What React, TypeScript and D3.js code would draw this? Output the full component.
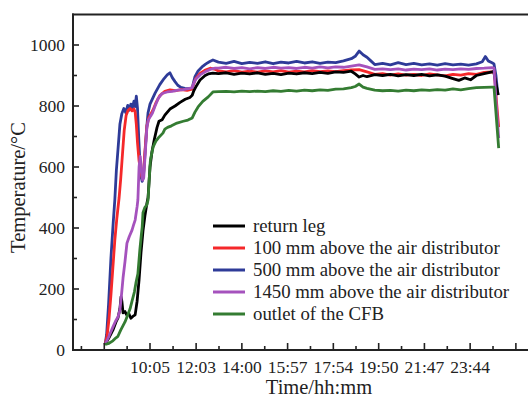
import React from "react";
import * as d3 from "d3";

type Pt = [number, number];

// time in minutes since 00:00, temperature in °C
const seriesNames = [
  "return leg",
  "100 mm above the air distributor",
  "500 mm above the air distributor",
  "1450 mm above the air distributor",
  "outlet of the CFB",
];
const seriesColors = ["#000000", "#f5282a", "#2e3b98", "#a552bd", "#347c32"];

const returnLeg: Pt[] = [
  [490,18],[500,40],[510,65],[518,92],[523,105],[528,135],[531,175],[533,160],[536,122],[541,126],[546,114],[551,119],[556,104],[561,110],[567,115],[572,160],[577,230],[582,320],[587,390],[592,440],[597,480],[600,500],[605,600],[610,650],[616,690],[623,730],[628,750],[636,755],[643,770],[656,790],[669,800],[682,812],[695,822],[707,828],[713,835],[717,850],[722,862],[733,885],[746,900],[754,905],[766,908],
  [780,906],[800,909],[820,904],[840,908],[860,905],[880,909],[900,904],[920,907],[940,903],[960,908],[980,905],[1000,909],[1020,906],[1040,910],[1060,907],[1080,912],[1100,910],[1120,914],[1130,905],[1140,895],[1150,900],[1160,896],[1180,903],[1200,900],[1220,904],[1240,899],[1260,903],[1280,900],[1300,904],[1320,899],[1340,902],[1360,898],[1380,890],[1395,884],[1410,892],[1425,886],[1440,900],[1460,906],[1480,912],[1484,914],[1489,880],[1496,836],
];

const above100: Pt[] = [
  [490,18],[495,45],[500,100],[505,180],[510,270],[515,360],[520,430],[526,500],[530,560],[535,650],[539,720],[544,770],[549,786],[554,792],[559,784],[564,790],[567,780],[570,740],[573,680],[577,620],[581,588],[585,563],[588,570],[592,650],[597,735],[602,762],[608,776],[613,788],[620,810],[630,834],[643,848],[656,853],[670,850],[685,854],[700,851],[713,855],[716,870],[722,890],[733,907],[745,917],[759,924],[772,920],
  [780,915],[800,912],[820,916],[840,911],[860,914],[880,911],[900,915],[920,912],[940,916],[960,911],[980,914],[1000,912],[1020,916],[1040,913],[1060,915],[1080,913],[1100,916],[1120,918],[1140,919],[1160,912],[1180,904],[1200,906],[1220,901],[1240,905],[1260,901],[1280,904],[1300,900],[1320,905],[1340,902],[1360,899],[1380,904],[1400,901],[1420,906],[1440,904],[1460,910],[1480,912],[1486,910],[1491,820],[1497,731],
];

const above500: Pt[] = [
  [490,18],[494,50],[499,150],[505,300],[511,420],[515,492],[519,590],[523,656],[528,740],[533,775],[538,792],[543,778],[548,802],[552,786],[556,806],[560,794],[564,816],[567,798],[570,832],[573,792],[576,700],[579,620],[582,570],[585,553],[588,565],[592,640],[596,720],[600,778],[605,806],[610,820],[618,842],[630,870],[641,890],[649,902],[656,909],[662,893],[669,880],[676,868],[684,861],[694,858],[704,857],[713,859],[716,876],[720,896],[728,915],[738,928],[748,938],[758,946],[766,951],
  [780,944],[800,940],[820,946],[840,939],[860,943],[880,940],[900,945],[920,939],[940,944],[960,941],[980,946],[1000,941],[1020,945],[1040,940],[1060,944],[1080,942],[1100,948],[1120,955],[1130,963],[1140,980],[1150,968],[1160,960],[1170,948],[1180,936],[1200,940],[1220,935],[1240,942],[1260,936],[1280,940],[1300,935],[1320,938],[1340,934],[1360,939],[1380,935],[1400,937],[1420,934],[1440,938],[1455,945],[1463,962],[1470,948],[1480,942],[1485,938],[1490,900],[1495,836],
];

const above1450: Pt[] = [
  [490,18],[500,45],[510,75],[517,95],[523,108],[528,131],[532,180],[536,236],[541,290],[546,350],[552,372],[559,393],[563,410],[567,426],[572,470],[574,492],[577,600],[580,635],[583,592],[586,557],[589,566],[593,650],[597,730],[601,755],[606,766],[611,776],[618,800],[626,825],[636,841],[649,846],[662,848],[676,852],[690,854],[704,857],[713,860],[716,872],[722,888],[733,902],[746,912],[759,920],[772,924],
  [780,924],[800,927],[820,923],[840,926],[860,922],[880,926],[900,923],[920,927],[940,924],[960,926],[980,923],[1000,927],[1020,924],[1040,928],[1060,925],[1080,928],[1100,927],[1120,931],[1140,935],[1160,928],[1180,920],[1200,922],[1220,919],[1240,922],[1260,918],[1280,921],[1300,919],[1320,922],[1340,918],[1360,921],[1380,919],[1400,922],[1420,920],[1440,923],[1460,924],[1480,926],[1485,924],[1491,800],[1497,695],
];

const outletCFB: Pt[] = [
  [490,18],[500,22],[510,30],[518,40],[523,45],[530,65],[536,80],[541,92],[548,115],[554,135],[559,160],[565,190],[569,220],[574,250],[579,328],[583,380],[585,403],[587,450],[592,468],[597,476],[600,492],[603,560],[606,623],[613,666],[620,685],[626,695],[638,711],[643,724],[650,730],[660,735],[674,744],[690,750],[702,754],[713,761],[720,780],[728,797],[740,815],[754,830],[766,846],
  [780,847],[800,848],[820,846],[840,849],[860,847],[880,849],[900,847],[920,850],[940,848],[960,851],[980,849],[1000,852],[1020,850],[1040,853],[1060,851],[1080,855],[1100,856],[1120,860],[1130,864],[1140,872],[1150,862],[1160,858],[1180,852],[1200,850],[1220,851],[1240,849],[1260,852],[1280,850],[1300,853],[1320,851],[1340,854],[1360,852],[1380,856],[1400,853],[1420,857],[1440,860],[1460,861],[1480,862],[1485,862],[1497,662],
];

const seriesData = [returnLeg, above100, above500, above1450, outletCFB];
// drawing order (indices into seriesData)
const drawOrder = [2, 1, 0, 3, 4];

const xTickLabels = ["10:05", "12:03", "14:00", "15:57", "17:54", "19:50", "21:47", "23:44"];
const xExtraMajorTicks = [488, 1541];
const yMajorTicks = [0, 200, 400, 600, 800, 1000];
const yMinorTicks = [100, 300, 500, 700, 900];

const toMinutes = (s: string) => {
  const [h, m] = s.split(":").map(Number);
  return h * 60 + m;
};

export default function App() {
  const W = 528, H = 399;
  const left = 73, right = 528, top = 14.5, bottom = 350;
  const x = d3.scaleLinear().domain([408, 1572]).range([left, right]);
  const y = d3.scaleLinear().domain([0, 1100]).range([bottom, top]);
  const line = d3.line<Pt>().x(d => x(d[0])).y(d => y(d[1]));

  const labeledTimes = xTickLabels.map(toMinutes);
  const majorTimes = [...labeledTimes, ...xExtraMajorTicks].sort((a, b) => a - b);
  const minorTimes = [
    majorTimes[0] - (majorTimes[1] - majorTimes[0]) / 2,
    ...d3.pairs(majorTimes).map(([a, b]) => (a + b) / 2),
  ];

  const font = "'Liberation Serif', 'Times New Roman', serif";
  const legendX1 = 213, legendX2 = 245, legendTextX = 253, legendY0 = 226, legendDy = 22;

  return (
    <div style={{ position: "absolute", left: 0, top: 0 }}>
      <svg width={W} height={H} style={{ display: "block", background: "#fff" }} fontFamily={font}>
        {drawOrder.map(i => (
          <path key={i} d={line(seriesData[i]) || ""} fill="none" stroke={seriesColors[i]}
            strokeWidth={2.8} strokeLinejoin="round" />
        ))}
        {/* axes frame */}
        <line x1={left} x2={left} y1={top - 1} y2={bottom + 1} stroke="#222" strokeWidth={2} />
        <line x1={left - 1} x2={right} y1={bottom} y2={bottom} stroke="#222" strokeWidth={2} />
        <line x1={left - 1} x2={right} y1={top} y2={top} stroke="#222" strokeWidth={2} />
        {/* y ticks */}
        {yMajorTicks.map(v => (
          <g key={"ym" + v}>
            <line x1={left} x2={left + 6} y1={y(v)} y2={y(v)} stroke="#222" strokeWidth={1.6} />
            <text x={65} y={y(v)} dy="0.36em" textAnchor="end" fontSize={17.5} fill="#222">{v}</text>
          </g>
        ))}
        {yMinorTicks.map(v => (
          <line key={"yn" + v} x1={left} x2={left + 4} y1={y(v)} y2={y(v)} stroke="#222" strokeWidth={1.6} />
        ))}
        {/* x ticks */}
        {majorTimes.map(t => (
          <line key={"xm" + t} x1={x(t)} x2={x(t)} y1={bottom} y2={bottom - 7} stroke="#222" strokeWidth={1.6} />
        ))}
        {minorTimes.map(t => (
          <line key={"xn" + t} x1={x(t)} x2={x(t)} y1={bottom} y2={bottom - 4} stroke="#222" strokeWidth={1.6} />
        ))}
        {xTickLabels.map((s, i) => (
          <text key={s} x={x(labeledTimes[i])} y={372.5} textAnchor="middle" fontSize={17.5} fill="#222">{s}</text>
        ))}
        {/* axis titles */}
        <text x={319} y={394} textAnchor="middle" fontSize={20.5} fill="#222">Time/hh:mm</text>
        <text transform={`translate(25,187.5) rotate(-90)`} textAnchor="middle" fontSize={20.5} fill="#222">Temperature/°C</text>
        {/* legend */}
        {seriesNames.map((name, i) => (
          <g key={name}>
            <line x1={legendX1} x2={legendX2} y1={legendY0 + i * legendDy} y2={legendY0 + i * legendDy}
              stroke={seriesColors[i]} strokeWidth={3} />
            <text x={legendTextX} y={legendY0 + i * legendDy} dy="0.33em" fontSize={18.8} fill="#222">{name}</text>
          </g>
        ))}
      </svg>
    </div>
  );
}
